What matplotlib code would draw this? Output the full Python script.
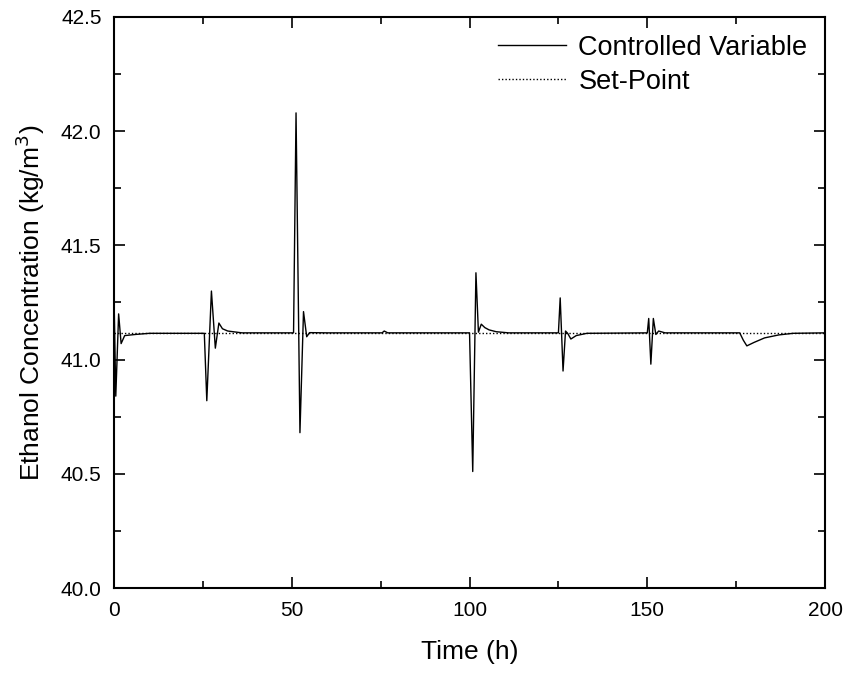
import matplotlib
matplotlib.use("Agg")
import matplotlib.pyplot as plt
from matplotlib.ticker import MultipleLocator, FormatStrFormatter

plt.rcParams['font.family'] = ['Liberation Sans', 'DejaVu Sans']

time_h = [0, 0.5, 1.3, 2.0, 3.0, 6, 10, 25, 25.4, 26.1, 27.4, 28.5, 29.5, 30.5, 32, 36,
          50, 50.5, 51.2, 52.3, 53.3, 54.2, 55, 60, 75.4, 76.0, 77.0,
          100, 100.9, 101.8, 102.5, 103.3, 104.3, 105.5, 107.5, 111,
          125, 125.5, 126.3, 127.0, 127.6, 128.5, 130, 133,
          150, 150.4, 151.0, 151.7, 152.4, 153.2, 155,
          176, 177, 178, 180, 183, 187, 191, 200]
controlled = [41.28, 40.84, 41.20, 41.07, 41.105, 41.11, 41.115, 41.115, 41.115, 40.82, 41.30, 41.05, 41.16, 41.135, 41.125, 41.117,
              41.117, 41.117, 42.08, 40.68, 41.21, 41.10, 41.118, 41.117, 41.117, 41.125, 41.117,
              41.117, 40.51, 41.38, 41.12, 41.155, 41.14, 41.13, 41.122, 41.117,
              41.117, 41.27, 40.95, 41.125, 41.115, 41.09, 41.105, 41.115,
              41.117, 41.18, 40.98, 41.18, 41.11, 41.125, 41.117,
              41.117, 41.085, 41.06, 41.075, 41.095, 41.108, 41.115, 41.117]
setpoint_t = [0, 200]
setpoint = [41.117, 41.117]

fig = plt.figure(figsize=(8.47, 6.73), dpi=100)
ax = fig.add_axes([0.1346, 0.1263, 0.8395, 0.8485])

ax.plot(time_h, controlled, color='black', lw=1.0, label='Controlled Variable')
ax.plot(setpoint_t, setpoint, color='black', lw=1.0, ls=(0, (1, 1.5)), label='Set-Point')

ax.set_xlim(0, 200)
ax.set_ylim(40.0, 42.5)
ax.xaxis.set_major_locator(MultipleLocator(50))
ax.xaxis.set_minor_locator(MultipleLocator(25))
ax.yaxis.set_major_locator(MultipleLocator(0.5))
ax.yaxis.set_minor_locator(MultipleLocator(0.25))
ax.yaxis.set_major_formatter(FormatStrFormatter('%.1f'))
ax.tick_params(which='both', direction='in', top=True, right=True, width=1.2, labelsize=15)
ax.tick_params(which='major', length=8)
ax.tick_params(which='minor', length=5)
ax.tick_params(axis='x', pad=9)
ax.tick_params(axis='y', pad=9)
for s in ax.spines.values():
    s.set_linewidth(1.5)

ax.set_xlabel('Time (h)', fontsize=19, labelpad=15)
ax.set_ylabel('Ethanol Concentration (kg/m$^3$)', fontsize=19, labelpad=10)

ax.legend(loc='upper right', bbox_to_anchor=(1.0, 1.0), frameon=False, fontsize=19.5,
          handlelength=2.5, handletextpad=0.45, labelspacing=0.3, borderaxespad=0.25)

fig.savefig('out.png', dpi=100)
